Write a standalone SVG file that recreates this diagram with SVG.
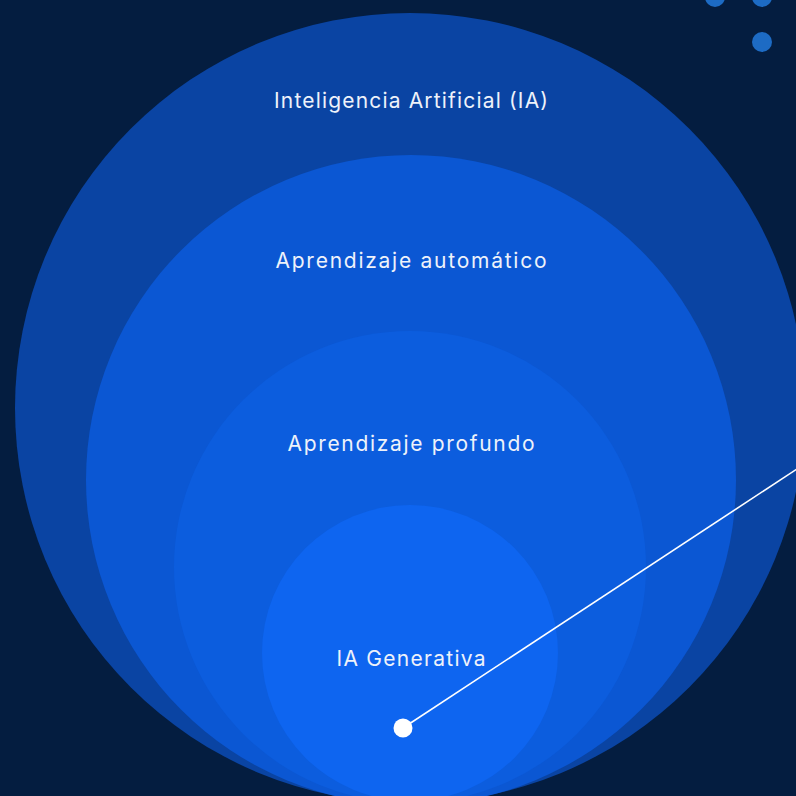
<svg xmlns="http://www.w3.org/2000/svg" width="796" height="796" viewBox="0 0 796 796">
<style>
.lbl{font-family:Inter,"Open Sans","Liberation Sans",sans-serif;font-size:21px;fill:#EEF2FA;text-anchor:middle;}
.dot{fill:#1D6BC4;}
</style>
<rect width="796" height="796" fill="#041D40"/>
<g id="deco">
<circle class="dot" cx="715" cy="-3" r="10"/>
<circle class="dot" cx="762" cy="-3" r="10"/>
<circle class="dot" cx="762" cy="42" r="10"/>
</g>
<g id="node-ia">
<circle cx="410" cy="408" r="395" fill="#0A44A3"/>
<text class="lbl" x="411" y="108" textLength="274" lengthAdjust="spacing">Inteligencia Artificial (IA)</text>
</g>
<g id="node-ml">
<circle cx="411" cy="480" r="325" fill="#0B57D3"/>
<text class="lbl" x="411" y="268" textLength="271" lengthAdjust="spacing">Aprendizaje automático</text>
</g>
<g id="node-dl">
<circle cx="410" cy="567" r="236" fill="#0C5DDE"/>
<text class="lbl" x="411" y="451" textLength="247" lengthAdjust="spacing">Aprendizaje profundo</text>
</g>
<g id="node-gen">
<circle cx="410" cy="653" r="148" fill="#0E65F0"/>
<text class="lbl" x="411" y="666" textLength="149" lengthAdjust="spacing">IA Generativa</text>
</g>
<g id="connectors">
<line x1="403" y1="728" x2="800" y2="467" stroke="#FFFFFF" stroke-width="1.6"/>
<circle cx="403" cy="728" r="9.5" fill="#FFFFFF"/>
</g>
</svg>
